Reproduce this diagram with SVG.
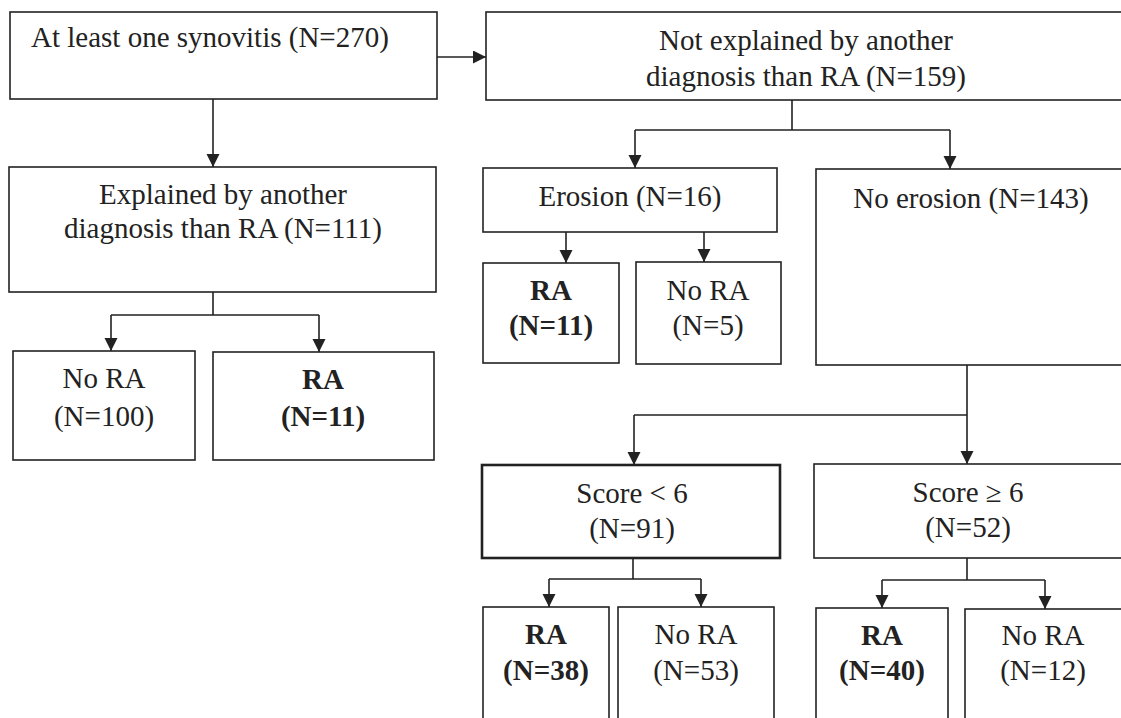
<svg xmlns="http://www.w3.org/2000/svg" width="1121" height="718" viewBox="0 0 1121 718">
<style>
  .box { fill: #ffffff; stroke: #222222; stroke-width: 1.6; }
  .thick { stroke-width: 2.6; }
  .t { font-family: "Liberation Serif", "Times New Roman", serif; font-size: 29px; fill: #222222; text-anchor: middle; }
  .l { text-anchor: start; }
  .b { font-weight: bold; }
  .c { fill: none; stroke: #222222; stroke-width: 1.6; }
  .a { marker-end: url(#arr); }
</style>
<defs>
  <marker id="arr" markerUnits="userSpaceOnUse" markerWidth="14" markerHeight="14" refX="13" refY="6.5" orient="auto">
    <path d="M0,0 L13,6.5 L0,13 Z" fill="#222222"/>
  </marker>
</defs>
<rect x="0" y="0" width="1121" height="718" fill="#ffffff"/>

<g id="connectors">
  <path class="c a" d="M437,57 H486"/>
  <path class="c a" d="M213,99 V167"/>
  <path class="c" d="M792,100 V130 M635,130 H950"/>
  <path class="c a" d="M635,130 V168"/>
  <path class="c a" d="M950,130 V169"/>
  <path class="c" d="M213,292 V315 M111,315 H319"/>
  <path class="c a" d="M111,315 V351"/>
  <path class="c a" d="M319,315 V352"/>
  <path class="c a" d="M566,232 V263"/>
  <path class="c a" d="M704,232 V262"/>
  <path class="c" d="M967,365 V415 M634,415 H967"/>
  <path class="c a" d="M634,415 V465"/>
  <path class="c a" d="M967,415 V464"/>
  <path class="c" d="M633,558 V579 M549,579 H701"/>
  <path class="c a" d="M549,579 V607"/>
  <path class="c a" d="M701,579 V607"/>
  <path class="c" d="M967,558 V580 M882,580 H1045"/>
  <path class="c a" d="M882,580 V608"/>
  <path class="c a" d="M1045,580 V609"/>
</g>

<g id="synovitis">
  <rect class="box" x="10" y="12" width="427" height="87"/>
  <text class="t l" x="31" y="47">At least one synovitis (N=270)</text>
</g>
<g id="not-explained">
  <rect class="box" x="486" y="12" width="660" height="88"/>
  <text class="t" x="806" y="50">Not explained by another</text>
  <text class="t" x="806" y="86">diagnosis than RA (N=159)</text>
</g>
<g id="explained">
  <rect class="box" x="9" y="167" width="427" height="125"/>
  <text class="t" x="223" y="204">Explained by another</text>
  <text class="t" x="223" y="238">diagnosis than RA (N=111)</text>
</g>
<g id="expl-no-ra">
  <rect class="box" x="13" y="351" width="182" height="109"/>
  <text class="t" x="104" y="388">No RA</text>
  <text class="t" x="104" y="426">(N=100)</text>
</g>
<g id="expl-ra">
  <rect class="box" x="213" y="352" width="221" height="108"/>
  <text class="t b" x="323" y="389">RA</text>
  <text class="t b" x="323" y="426">(N=11)</text>
</g>
<g id="erosion">
  <rect class="box" x="483" y="168" width="294" height="64"/>
  <text class="t" x="630" y="206">Erosion (N=16)</text>
</g>
<g id="erosion-ra">
  <rect class="box" x="483" y="263" width="136" height="100"/>
  <text class="t b" x="551" y="300">RA</text>
  <text class="t b" x="551" y="335">(N=11)</text>
</g>
<g id="erosion-no-ra">
  <rect class="box" x="636" y="262" width="145" height="102"/>
  <text class="t" x="708" y="300">No RA</text>
  <text class="t" x="708" y="335">(N=5)</text>
</g>
<g id="no-erosion">
  <rect class="box" x="816" y="169" width="330" height="196"/>
  <text class="t" x="971" y="208">No erosion (N=143)</text>
</g>
<g id="score-low">
  <rect class="box thick" x="482" y="465" width="298" height="93"/>
  <text class="t" x="632" y="503">Score &lt; 6</text>
  <text class="t" x="632" y="538">(N=91)</text>
</g>
<g id="score-high">
  <rect class="box" x="814" y="464" width="330" height="94"/>
  <text class="t" x="968" y="502">Score ≥ 6</text>
  <text class="t" x="968" y="537">(N=52)</text>
</g>
<g id="low-ra">
  <rect class="box" x="483" y="607" width="126" height="130"/>
  <text class="t b" x="546" y="644">RA</text>
  <text class="t b" x="546" y="680">(N=38)</text>
</g>
<g id="low-no-ra">
  <rect class="box" x="618" y="607" width="156" height="130"/>
  <text class="t" x="696" y="644">No RA</text>
  <text class="t" x="696" y="680">(N=53)</text>
</g>
<g id="high-ra">
  <rect class="box" x="816" y="608" width="132" height="130"/>
  <text class="t b" x="882" y="645">RA</text>
  <text class="t b" x="882" y="680">(N=40)</text>
</g>
<g id="high-no-ra">
  <rect class="box" x="965" y="609" width="170" height="130"/>
  <text class="t" x="1043" y="645">No RA</text>
  <text class="t" x="1043" y="680">(N=12)</text>
</g>
</svg>
